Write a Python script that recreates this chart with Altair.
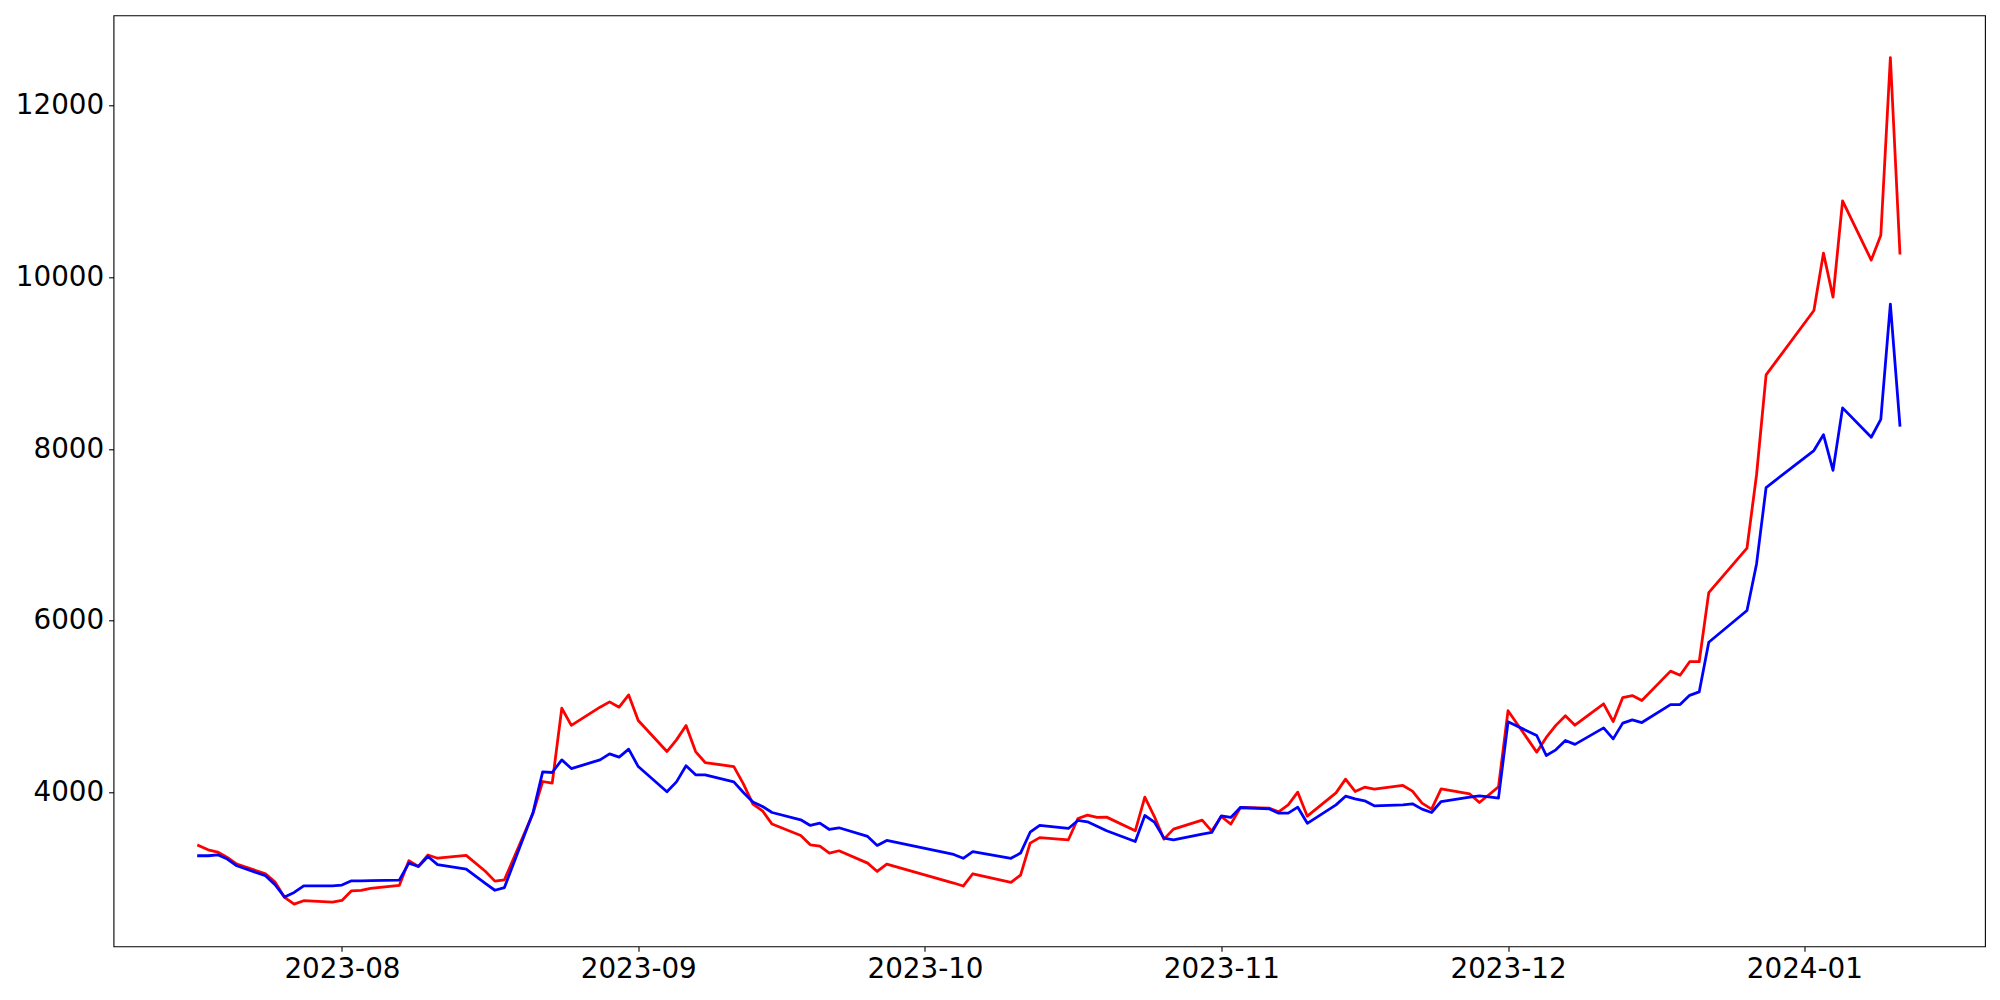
import altair as alt
import pandas as pd

dates = [
    "2023-07-17", "2023-07-18", "2023-07-19", "2023-07-20", "2023-07-21",
    "2023-07-24", "2023-07-25", "2023-07-26", "2023-07-27", "2023-07-28",
    "2023-07-31", "2023-08-01", "2023-08-02", "2023-08-03", "2023-08-04",
    "2023-08-07", "2023-08-08", "2023-08-09", "2023-08-10", "2023-08-11",
    "2023-08-14", "2023-08-16", "2023-08-17", "2023-08-18",
    "2023-08-21", "2023-08-22", "2023-08-23", "2023-08-24", "2023-08-25",
    "2023-08-28", "2023-08-29", "2023-08-30", "2023-08-31", "2023-09-01",
    "2023-09-04", "2023-09-05", "2023-09-06", "2023-09-07", "2023-09-08",
    "2023-09-11", "2023-09-12", "2023-09-13", "2023-09-14", "2023-09-15",
    "2023-09-18", "2023-09-19", "2023-09-20", "2023-09-21", "2023-09-22",
    "2023-09-25", "2023-09-26", "2023-09-27",
    "2023-10-04", "2023-10-05", "2023-10-06",
    "2023-10-10", "2023-10-11", "2023-10-12", "2023-10-13",
    "2023-10-16", "2023-10-17", "2023-10-18", "2023-10-19", "2023-10-20",
    "2023-10-23", "2023-10-24", "2023-10-25", "2023-10-26", "2023-10-27",
    "2023-10-30", "2023-10-31", "2023-11-01", "2023-11-02", "2023-11-03",
    "2023-11-06", "2023-11-07", "2023-11-08", "2023-11-09", "2023-11-10",
    "2023-11-13", "2023-11-14", "2023-11-15", "2023-11-16", "2023-11-17",
    "2023-11-20", "2023-11-21", "2023-11-22", "2023-11-23", "2023-11-24",
    "2023-11-27", "2023-11-28", "2023-11-29", "2023-11-30", "2023-12-01",
    "2023-12-04", "2023-12-05", "2023-12-06", "2023-12-07", "2023-12-08",
    "2023-12-11", "2023-12-12", "2023-12-13", "2023-12-14", "2023-12-15",
    "2023-12-18", "2023-12-19", "2023-12-20", "2023-12-21", "2023-12-22",
    "2023-12-26", "2023-12-27", "2023-12-28",
    "2024-01-02", "2024-01-03", "2024-01-04", "2024-01-05",
    "2024-01-08", "2024-01-09", "2024-01-10", "2024-01-11",
]

red = [
    3381, 3330, 3304, 3241, 3164,
    3051, 2954, 2775, 2698, 2737,
    2721, 2740, 2853, 2857, 2880,
    2915, 3202, 3136, 3270, 3232,
    3266, 3080, 2965, 2981,
    3758, 4126, 4107, 4980, 4780,
    4992, 5054, 4992, 5135, 4836,
    4475, 4611, 4778, 4475, 4347,
    4300, 4099, 3863, 3785, 3630,
    3497, 3389, 3373, 3292, 3319,
    3175, 3078, 3164,
    2943, 2908, 3051,
    2950, 3036, 3408, 3472,
    3447, 3695, 3734, 3707, 3711,
    3552, 3944, 3718, 3455, 3571,
    3676, 3548, 3718, 3630, 3823,
    3816, 3773, 3854, 4002, 3722,
    3994, 4154, 4010, 4060, 4037,
    4080, 4014, 3874, 3804, 4041,
    3981, 3881, 3972, 4064, 4951,
    4468, 4640, 4780, 4892, 4782,
    5031, 4825, 5104, 5127, 5069,
    5412, 5364, 5522, 5522, 6326,
    6846, 7700, 8864,
    9614, 10283, 9770, 10891,
    10201, 10490, 12560, 10283,
]

blue = [
    3261, 3261, 3272, 3222, 3144,
    3028, 2923, 2780, 2833, 2911,
    2911, 2919, 2969, 2969, 2972,
    2977, 3175, 3136, 3253, 3158,
    3106, 2938, 2859, 2890,
    3769, 4239, 4231, 4378, 4277,
    4378, 4448, 4410, 4503, 4300,
    4006, 4122, 4309, 4204, 4204,
    4122, 3998, 3886, 3835, 3765,
    3680, 3614, 3641, 3567, 3587,
    3486, 3381, 3439,
    3276, 3231, 3309,
    3231, 3292, 3535, 3616,
    3579, 3672, 3656, 3604, 3552,
    3427, 3730, 3653, 3466, 3447,
    3513, 3532, 3726, 3707, 3823,
    3808, 3757, 3757, 3827, 3639,
    3854, 3955, 3924, 3901, 3843,
    3855, 3866, 3804, 3765, 3893,
    3944, 3959, 3946, 3932, 4821,
    4662, 4429, 4495, 4604, 4559,
    4751, 4623, 4806, 4844, 4813,
    5022, 5022, 5130, 5170, 5748,
    6118, 6661, 7551,
    7982, 8167, 7751, 8479,
    8137, 8345, 9689, 8278,
]

month_ticks = ["2023-08-01", "2023-09-01", "2023-10-01", "2023-11-01", "2023-12-01", "2024-01-01"]
y_ticks = [4000, 6000, 8000, 10000, 12000]

df = pd.DataFrame({"date": dates, "red": red, "blue": blue})

# matplotlib-like 5% margins
def ms(s):
    return int(pd.Timestamp(s, tz="UTC").value // 10**6)

t0, t1 = ms(dates[0]), ms(dates[-1])
tr = t1 - t0
x_domain = [t0 - 0.05 * tr, t1 + 0.05 * tr]
vmin = min(min(red), min(blue))
vmax = max(max(red), max(blue))
vr = vmax - vmin
y_domain = [vmin - 0.05 * vr, vmax + 0.05 * vr]

FONT = "DejaVu Sans"
FS = 27.8

x_enc = alt.X(
    "date:T",
    scale=alt.Scale(type="utc", domain=x_domain, nice=False),
    axis=alt.Axis(
        values=[ms(m) for m in month_ticks],
        labelExpr="utcFormat(datum.value, '%Y-%m')",
        title=None,
        grid=False,
        domain=False,
        tickColor="black",
        tickWidth=1.1,
        tickSize=4.9,
        labelPadding=4.0,
        labelFont=FONT,
        labelFontSize=FS,
        labelColor="black",
        labelFlush=False,
        labelOverlap=False,
    ),
)

y_axis = alt.Axis(
    values=y_ticks,
    format="d",
    title=None,
    grid=False,
    domain=False,
    tickColor="black",
    tickWidth=1.1,
    tickSize=4.9,
    labelPadding=4.9,
    labelFont=FONT,
    labelFontSize=FS,
    labelColor="black",
    labelFlush=False,
    labelOverlap=False,
)

base = alt.Chart(df)

red_line = base.mark_line(
    color="#ff0000", strokeWidth=2.78, strokeJoin="round", strokeCap="square"
).encode(
    x=x_enc,
    y=alt.Y("red:Q", scale=alt.Scale(domain=y_domain, nice=False, zero=False), axis=y_axis),
)

blue_line = base.mark_line(
    color="#0000ff", strokeWidth=2.78, strokeJoin="round", strokeCap="square"
).encode(
    x=x_enc,
    y=alt.Y("blue:Q", scale=alt.Scale(domain=y_domain, nice=False, zero=False), axis=y_axis),
)

chart = (
    alt.layer(red_line, blue_line)
    .properties(
        width=1871.5,
        height=931.1,
        autosize=alt.AutoSizeParams(type="none"),
        padding={"left": 105.5, "top": 7.3, "right": 7, "bottom": 45},
        background="white",
    )
    .configure_view(stroke="black", strokeWidth=1.1)
)

chart.save("out.html", embed_options={"renderer": "svg", "actions": False})
